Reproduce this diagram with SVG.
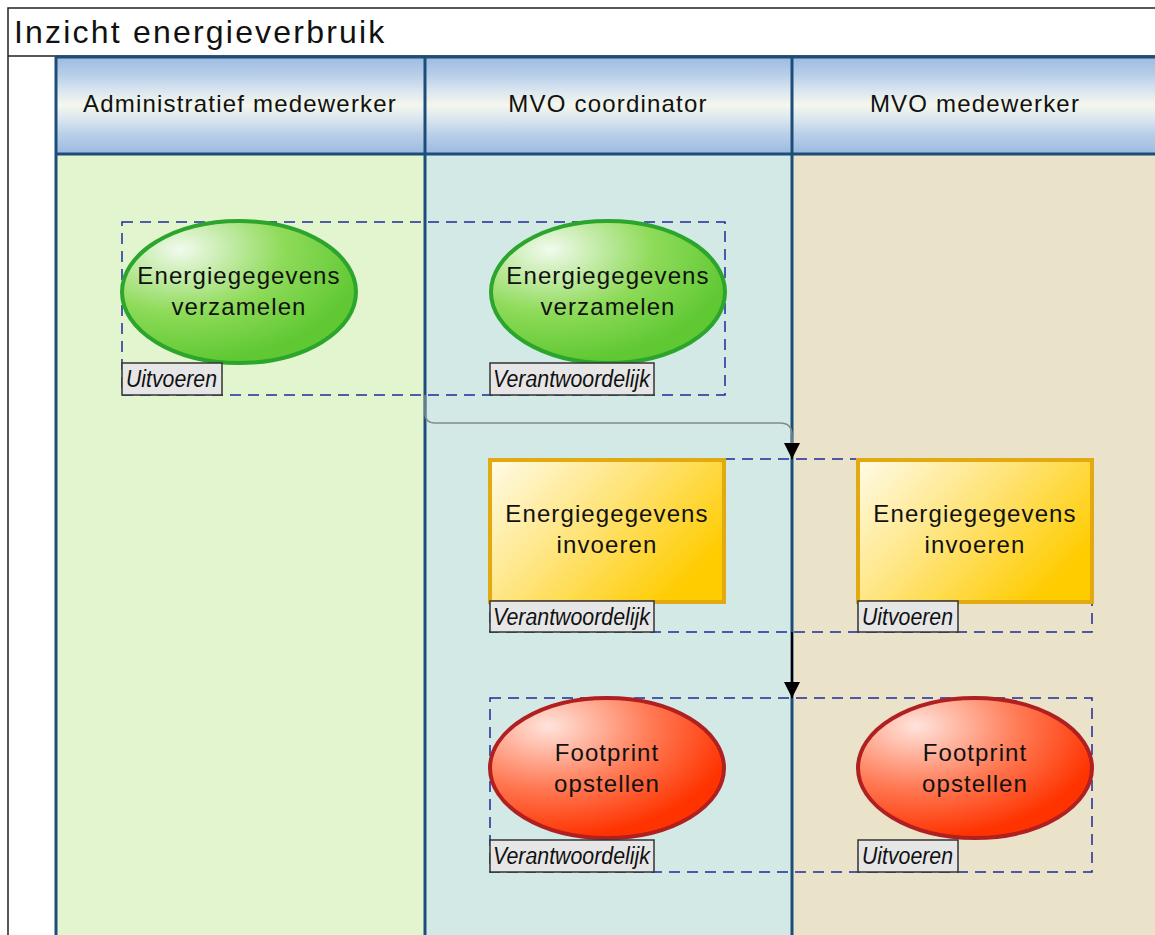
<svg xmlns="http://www.w3.org/2000/svg" width="1155" height="935" viewBox="0 0 1155 935">
<style>
.t{font-family:"Liberation Sans",Arial,sans-serif;fill:#111}
.hd{font-size:24px;text-anchor:middle;letter-spacing:1.2px}
.nt{font-size:24px;text-anchor:middle;letter-spacing:1.1px}
.lb{font-size:23px;font-style:italic}
.lbox{fill:#E6E6E6;stroke:#333;stroke-width:1.5}
.grp{fill:none;stroke:#1F2A9A;stroke-width:1.5;stroke-dasharray:11 7}
.div{stroke:#1D4E7A;stroke-width:3}
</style>
<defs>
<linearGradient id="hdr" x1="0" y1="0" x2="0" y2="1">
<stop offset="0" stop-color="#9BBAE0"/>
<stop offset="0.2" stop-color="#B9CFE8"/>
<stop offset="0.35" stop-color="#D9E5F0"/>
<stop offset="0.5" stop-color="#F4F7EC"/>
<stop offset="0.65" stop-color="#D9E5F0"/>
<stop offset="0.8" stop-color="#B9CFE8"/>
<stop offset="1" stop-color="#9BBAE0"/>
</linearGradient>
<radialGradient id="gG" cx="0.25" cy="0.2" r="0.8">
<stop offset="0" stop-color="#F2FAEE"/>
<stop offset="0.55" stop-color="#8FDB5A"/>
<stop offset="1" stop-color="#5FC832"/>
</radialGradient>
<linearGradient id="gY" x1="0" y1="0" x2="1" y2="0.6">
<stop offset="0" stop-color="#FFFBE8"/>
<stop offset="0.5" stop-color="#FFE47A"/>
<stop offset="1" stop-color="#FFCC00"/>
</linearGradient>
<radialGradient id="gR" cx="0.25" cy="0.2" r="0.8">
<stop offset="0" stop-color="#FFE4DC"/>
<stop offset="0.55" stop-color="#FF7A55"/>
<stop offset="1" stop-color="#FF3300"/>
</radialGradient>
<marker id="ah" markerWidth="16" markerHeight="16" viewBox="0 0 16 16" refX="16" refY="8" orient="auto" markerUnits="userSpaceOnUse">
<path d="M0,0 L16,8 L0,16 Z" fill="#000"/>
</marker>
</defs>
<rect width="1155" height="935" fill="#fff"/>
<g id="frame">
<path d="M1155,8 H8 V935 M8,56 H1155" fill="none" stroke="#222" stroke-width="1.5"/>
<text class="t" x="14" y="43" font-size="32" letter-spacing="2.2">Inzicht energieverbruik</text>
</g>
<g id="lanes">
<rect x="56" y="154" width="369" height="781" fill="#E2F5CE"/>
<rect x="425" y="154" width="367" height="781" fill="#D3E9E6"/>
<rect x="792" y="154" width="363" height="781" fill="#EAE3CA"/>
<rect x="56" y="56" width="1099" height="98" fill="url(#hdr)"/>
<path class="div" d="M56,57 H1155 M56,154 H1155 M56,56 V935 M425,56 V935 M792,56 V935"/>
<text class="t hd" x="240" y="112">Administratief medewerker</text>
<text class="t hd" x="608" y="112">MVO coordinator</text>
<text class="t hd" x="975" y="112">MVO medewerker</text>
</g>
<g id="groups">
<rect class="grp" x="122" y="222" width="603" height="173"/>
<rect class="grp" x="490" y="459" width="602" height="173"/>
<rect class="grp" x="490" y="698" width="602" height="174"/>
</g>
<g id="connectors">
<path d="M425,395 V413 Q425,423 435,423 H780 Q792,423 792,435 V445" fill="none" stroke="#7F8C8C" stroke-width="1.5"/>
<path d="M792,443 V459" fill="none" stroke="#000" stroke-width="2" marker-end="url(#ah)"/>
<path d="M792,632 V698" fill="none" stroke="#000" stroke-width="2" marker-end="url(#ah)"/>
</g>
<g id="node1">
<ellipse cx="239" cy="292" rx="117" ry="71" fill="url(#gG)" stroke="#2BA52B" stroke-width="4"/>
<text class="t nt" x="239" y="284">Energiegegevens</text>
<text class="t nt" x="239" y="315">verzamelen</text>
<rect class="lbox" x="122" y="363" width="100" height="32"/>
<text class="t lb" x="126" y="387" textLength="91" lengthAdjust="spacingAndGlyphs">Uitvoeren</text>
</g>
<g id="node2">
<ellipse cx="608" cy="292" rx="117" ry="71" fill="url(#gG)" stroke="#2BA52B" stroke-width="4"/>
<text class="t nt" x="608" y="284">Energiegegevens</text>
<text class="t nt" x="608" y="315">verzamelen</text>
<rect class="lbox" x="490" y="363" width="164" height="32"/>
<text class="t lb" x="493" y="387" textLength="157" lengthAdjust="spacingAndGlyphs">Verantwoordelijk</text>
</g>
<g id="node3">
<rect x="490" y="460" width="234" height="142" fill="url(#gY)" stroke="#E2AA10" stroke-width="4"/>
<text class="t nt" x="607" y="522">Energiegegevens</text>
<text class="t nt" x="607" y="553">invoeren</text>
<rect class="lbox" x="490" y="601" width="164" height="31"/>
<text class="t lb" x="493" y="625" textLength="157" lengthAdjust="spacingAndGlyphs">Verantwoordelijk</text>
</g>
<g id="node4">
<rect x="858" y="460" width="234" height="142" fill="url(#gY)" stroke="#E2AA10" stroke-width="4"/>
<text class="t nt" x="975" y="522">Energiegegevens</text>
<text class="t nt" x="975" y="553">invoeren</text>
<rect class="lbox" x="858" y="601" width="100" height="31"/>
<text class="t lb" x="862" y="625" textLength="91" lengthAdjust="spacingAndGlyphs">Uitvoeren</text>
</g>
<g id="node5">
<ellipse cx="607" cy="768" rx="117" ry="70" fill="url(#gR)" stroke="#B02020" stroke-width="4"/>
<text class="t nt" x="607" y="761">Footprint</text>
<text class="t nt" x="607" y="792">opstellen</text>
<rect class="lbox" x="490" y="840" width="164" height="32"/>
<text class="t lb" x="493" y="864" textLength="157" lengthAdjust="spacingAndGlyphs">Verantwoordelijk</text>
</g>
<g id="node6">
<ellipse cx="975" cy="768" rx="117" ry="70" fill="url(#gR)" stroke="#B02020" stroke-width="4"/>
<text class="t nt" x="975" y="761">Footprint</text>
<text class="t nt" x="975" y="792">opstellen</text>
<rect class="lbox" x="858" y="840" width="100" height="32"/>
<text class="t lb" x="862" y="864" textLength="91" lengthAdjust="spacingAndGlyphs">Uitvoeren</text>
</g>
</svg>
